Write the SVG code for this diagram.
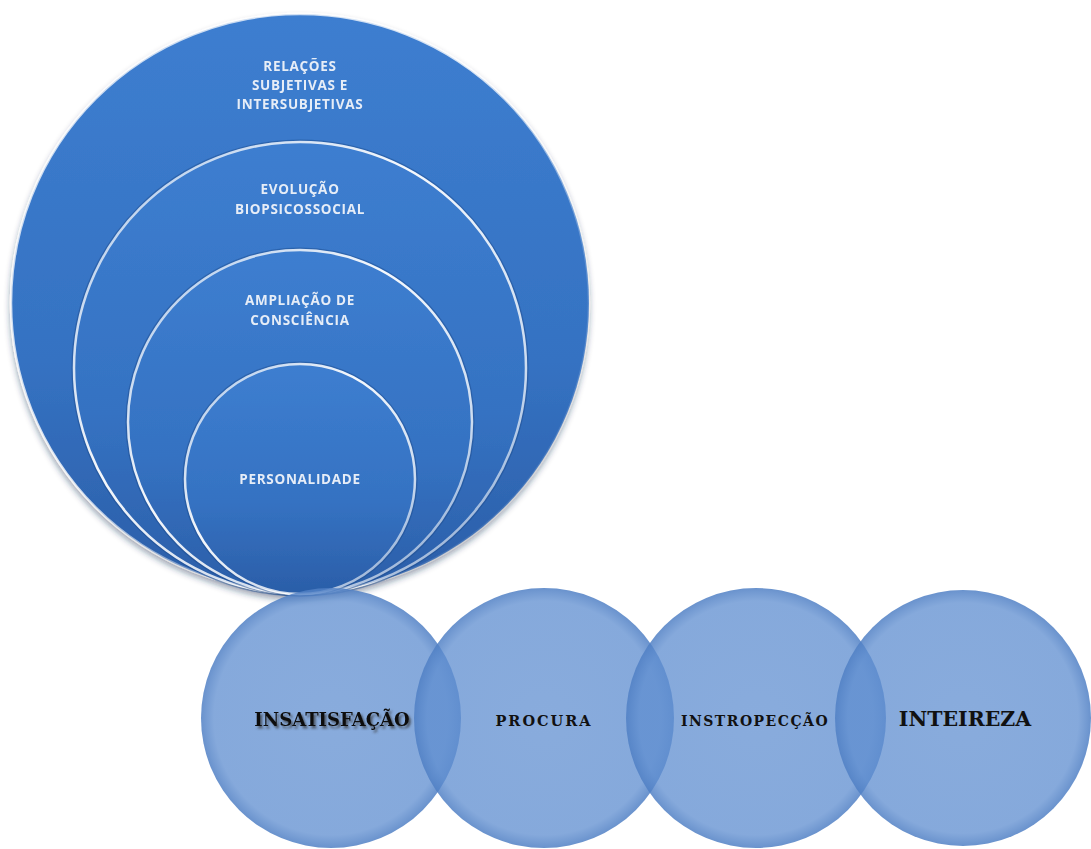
<svg xmlns="http://www.w3.org/2000/svg" width="1091" height="849" viewBox="0 0 1091 849">
<defs>
<linearGradient id="blueFill" x1="0" y1="0" x2="0" y2="1">
<stop offset="0" stop-color="#3d7ed0"/>
<stop offset="0.6" stop-color="#3572c2"/>
<stop offset="1" stop-color="#2b5ea8"/>
</linearGradient>
<linearGradient id="rim" x1="0" y1="0" x2="1" y2="1">
<stop offset="0" stop-color="#ffffff" stop-opacity="0.55"/>
<stop offset="0.4" stop-color="#ffffff" stop-opacity="0.95"/>
<stop offset="0.75" stop-color="#ffffff" stop-opacity="0.75"/>
<stop offset="1" stop-color="#ffffff" stop-opacity="0.3"/>
</linearGradient>
<linearGradient id="rimOuter" x1="0" y1="0" x2="1" y2="1">
<stop offset="0" stop-color="#ffffff" stop-opacity="0.7"/>
<stop offset="0.45" stop-color="#ffffff" stop-opacity="0.8"/>
<stop offset="0.7" stop-color="#ffffff" stop-opacity="0.2"/>
<stop offset="1" stop-color="#ffffff" stop-opacity="0"/>
</linearGradient>
<radialGradient id="lightFill" cx="0.5" cy="0.5" r="0.5">
<stop offset="0" stop-color="#5f8ed0" stop-opacity="0.74"/>
<stop offset="0.9" stop-color="#5f8ed0" stop-opacity="0.76"/>
<stop offset="1" stop-color="#4f7fc4" stop-opacity="0.85"/>
</radialGradient>
<filter id="ds" x="-10%" y="-10%" width="120%" height="125%">
<feDropShadow dx="0" dy="4" stdDeviation="3" flood-color="#1a2f50" flood-opacity="0.45"/>
</filter>
<filter id="tsh" x="-10%" y="-40%" width="130%" height="190%">
<feDropShadow dx="2" dy="2.5" stdDeviation="1.2" flood-color="#333" flood-opacity="0.7"/>
</filter>
</defs>
<style>
.big{fill:url(#blueFill);stroke:url(#rim);stroke-width:2.5}
.outer{fill:url(#blueFill);stroke:url(#rimOuter);stroke-width:2.5}
.edge{fill:none;stroke:#1d4a8a;stroke-opacity:0.45;stroke-width:1.5}
.lab{font-family:"Open Sans","Liberation Sans",sans-serif;font-weight:bold;font-size:13.5px;fill:#e6edf7;text-anchor:middle;letter-spacing:0.7px}
.bot{fill:url(#lightFill)}
.bl{font-family:"DejaVu Serif","Liberation Serif",serif;font-weight:bold;fill:#111;text-anchor:middle}
</style>
<rect width="1091" height="849" fill="#ffffff"/>
<g filter="url(#ds)">
<g id="n-relacoes">
<circle class="outer" cx="300" cy="303" r="289"/>
<text class="lab" x="300" y="71">RELAÇÕES</text>
<text class="lab" x="300" y="90">SUBJETIVAS E</text>
<text class="lab" x="300" y="109">INTERSUBJETIVAS</text>
</g>
<g id="n-evolucao">
<circle class="edge" cx="300" cy="368" r="227.8"/>
<circle class="big" cx="300" cy="368" r="226"/>
<text class="lab" x="300" y="194">EVOLUÇÃO</text>
<text class="lab" x="300" y="214">BIOPSICOSSOCIAL</text>
</g>
<g id="n-ampliacao">
<circle class="edge" cx="300" cy="422" r="173.8"/>
<circle class="big" cx="300" cy="422" r="172"/>
<text class="lab" x="300" y="305">AMPLIAÇÃO DE</text>
<text class="lab" x="300" y="325">CONSCIÊNCIA</text>
</g>
<g id="n-personalidade">
<circle class="edge" cx="300" cy="479" r="116.8"/>
<circle class="big" cx="300" cy="479" r="115"/>
<text class="lab" x="300" y="484">PERSONALIDADE</text>
</g>
</g>
<g id="connectors"></g>
<g id="n-insatisfacao">
<circle class="bot" cx="331" cy="718" r="130"/>
<text class="bl" x="332" y="726" font-size="18" filter="url(#tsh)">INSATISFAÇÃO</text>
</g>
<g id="n-procura">
<circle class="bot" cx="544" cy="718" r="130"/>
<text class="bl" x="544" y="726" font-size="14.5" letter-spacing="2">PROCURA</text>
</g>
<g id="n-instropeccao">
<circle class="bot" cx="756" cy="718" r="130"/>
<text class="bl" x="755" y="726" font-size="14" letter-spacing="1.5">INSTROPECÇÃO</text>
</g>
<g id="n-inteireza">
<circle class="bot" cx="963" cy="718" r="128"/>
<text class="bl" x="965" y="726" font-size="20.5">INTEIREZA</text>
</g>
</svg>
